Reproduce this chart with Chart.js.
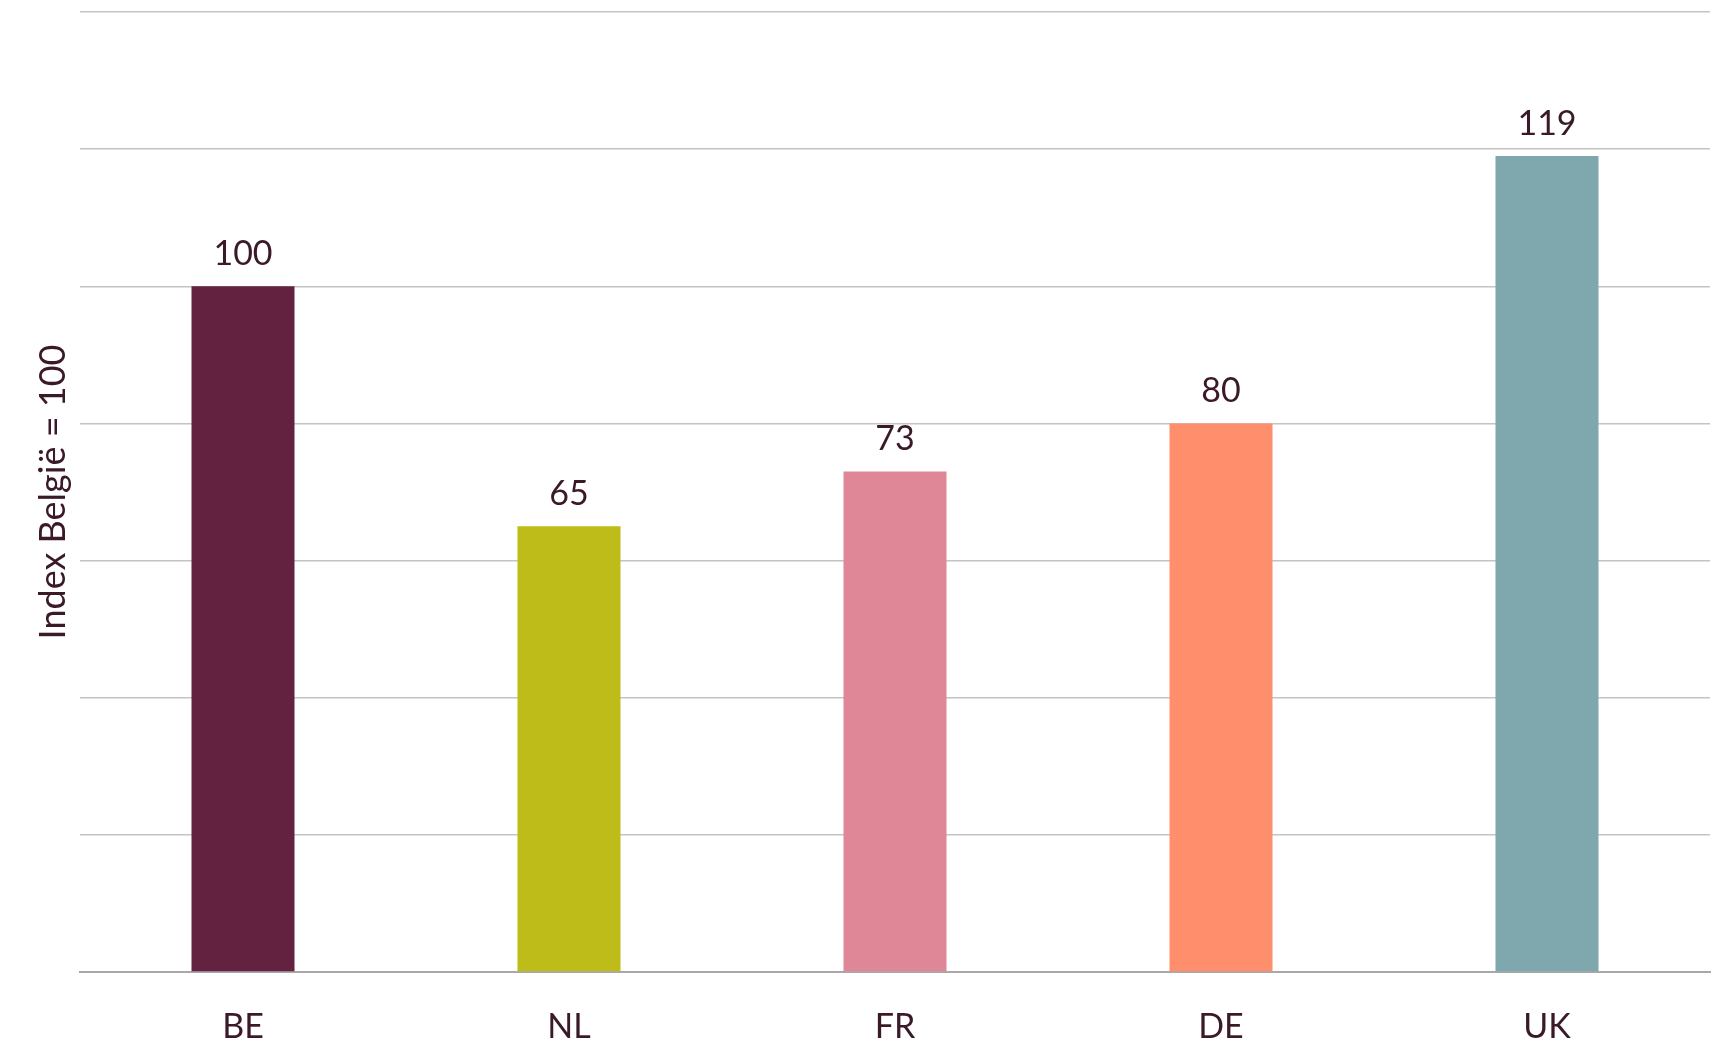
<!DOCTYPE html>
<html>
<head>
<meta charset="utf-8">
<script src="https://cdn.jsdelivr.net/npm/chart.js@4"></script>
<style>
html,body{margin:0;padding:0;background:#fff;}
#wrap{width:1718px;height:1046px;}
</style>
</head>
<body>
<div id="wrap"><canvas id="c" width="1718" height="1046"></canvas></div>
<script>
const categories = ["BE", "NL", "FR", "DE", "UK"];
const values = [100, 65, 73, 80, 119];
const barColors = ["#63223f", "#bdbc19", "#df8796", "#ff8f6c", "#7ea8ae"];
const axisTitle = "Index België = 100";
const textColor = "#3a1a28";

const valueLabels = {
  id: 'valueLabels',
  afterDatasetsDraw(chart) {
    const ctx = chart.ctx;
    const meta = chart.getDatasetMeta(0);
    ctx.save();
    ctx.fillStyle = textColor;
    ctx.font = '34px Lato';
    ctx.textAlign = 'center';
    ctx.textBaseline = 'alphabetic';
    meta.data.forEach((bar, i) => {
      ctx.fillText(String(values[i]), bar.x, bar.y - 21);
    });
    ctx.restore();
  }
};

new Chart(document.getElementById('c'), {
  type: 'bar',
  data: {
    labels: categories,
    datasets: [{
      data: values,
      backgroundColor: barColors,
      borderWidth: 0,
      categoryPercentage: 1,
      barPercentage: 0.316
    }]
  },
  options: {
    responsive: false,
    animation: false,
    devicePixelRatio: 1,
    layout: { padding: { top: 12, right: 8, left: 0, bottom: 0 } },
    plugins: { legend: { display: false }, tooltip: { enabled: false } },
    scales: {
      x: {
        grid: { display: false, drawTicks: false },
        border: { display: true, color: '#a8a8a8', width: 2 },
        ticks: { color: textColor, font: { family: 'Lato', size: 34 }, padding: 35 },
        afterFit(scale) { scale.height = 74; }
      },
      y: {
        min: 0, max: 140,
        ticks: { display: false, stepSize: 20 },
        grid: { color: '#c4c4c4', lineWidth: 1.5, drawTicks: false },
        border: { display: false },
        title: { display: true, text: axisTitle, color: textColor, font: { family: 'Lato', size: 36 }, padding: { top: 32, bottom: 0 } },
        afterFit(scale) { scale.width = 80; }
      }
    }
  },
  plugins: [valueLabels]
});
</script>
</body>
</html>
